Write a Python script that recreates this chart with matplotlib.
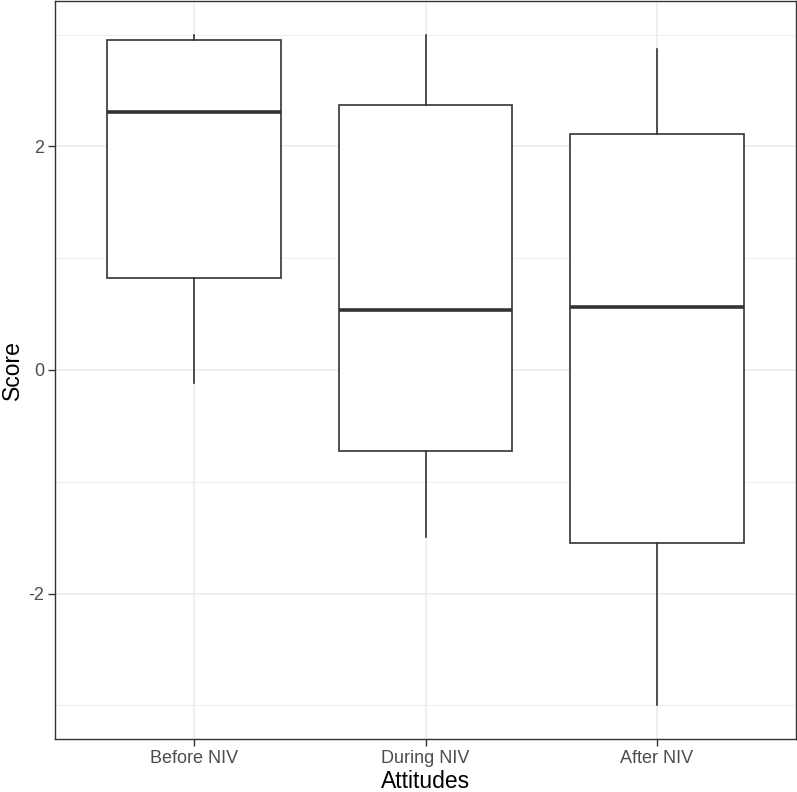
import matplotlib
matplotlib.use("Agg")
import matplotlib.pyplot as plt
from matplotlib.ticker import MultipleLocator

plt.rcParams['font.family'] = ['Liberation Sans', 'DejaVu Sans']
plt.rcParams['axes.unicode_minus'] = False

# box summary values
groups = ["Before NIV", "During NIV", "After NIV"]
whis_lo = [-0.12, -1.49, -3.0]
q1 = [0.82, -0.72, -1.55]
medians = [2.31, 0.54, 0.56]
q3 = [2.95, 2.37, 2.11]
whis_hi = [3.0, 3.0, 2.87]

stats = []
for i in range(len(groups)):
    stats.append(dict(label=groups[i], whislo=whis_lo[i], q1=q1[i], med=medians[i],
                      q3=q3[i], whishi=whis_hi[i], fliers=[]))

fig = plt.figure(figsize=(7.97, 7.92), dpi=100)
ax = fig.add_axes([55/797, 53/792, 741/797, 738/792])

line_c = "#333333"
ax.bxp(stats, positions=[1, 2, 3], widths=0.75, showcaps=False, patch_artist=True,
       boxprops=dict(facecolor="white", edgecolor=line_c, linewidth=1.2),
       whiskerprops=dict(color=line_c, linewidth=1.2),
       medianprops=dict(color=line_c, linewidth=2.6, solid_capstyle="butt"),
       zorder=3)

ax.set_xlim(0.4, 3.6)
ax.set_ylim(-3.3, 3.3)
ax.yaxis.set_major_locator(MultipleLocator(2))
ax.yaxis.set_minor_locator(MultipleLocator(1))
ax.set_xticks([1, 2, 3])
ax.set_xticklabels(groups)

ax.grid(which="major", color="#EBEBEB", linewidth=1.1, zorder=0)
ax.grid(which="minor", axis="y", color="#EBEBEB", linewidth=0.6, zorder=0)
ax.set_axisbelow(True)
ax.tick_params(which="minor", length=0)
ax.tick_params(which="major", length=5, width=1.0, color=line_c,
               labelsize=13, labelcolor="#4D4D4D", pad=3)
for s in ax.spines.values():
    s.set_color(line_c)
    s.set_linewidth(1.0)

ax.set_xlabel("Attitudes", fontsize=16.5, color="black", labelpad=2)
fig.text(12/797, 1 - 370/792, "Score", rotation=90, fontsize=16.5,
         color="black", ha="center", va="center")

fig.savefig("out.png", dpi=100)
